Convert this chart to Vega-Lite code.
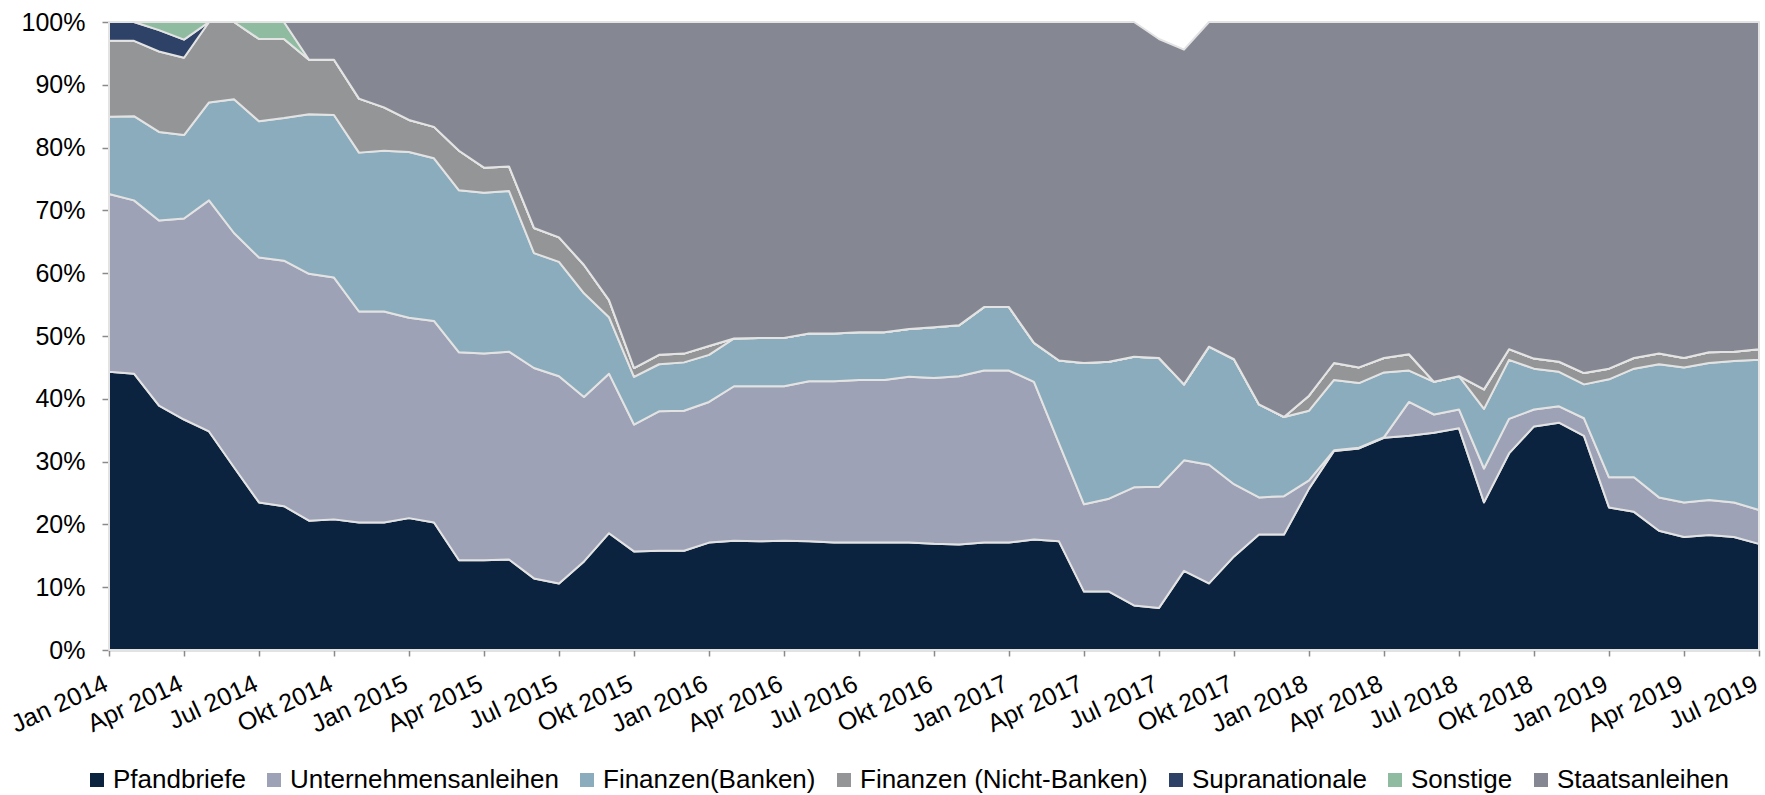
{
  "$schema": "https://vega.github.io/schema/vega-lite/v6.json",
  "width": 1650,
  "height": 628,
  "autosize": {"type": "none"},
  "padding": {"left": 109, "top": 22, "right": 6, "bottom": 145},
  "background": "white",
  "datasets": {
    "reihen": [
      {"key": "P", "series": "Pfandbriefe", "rank": 1},
      {"key": "U", "series": "Unternehmensanleihen", "rank": 2},
      {"key": "B", "series": "Finanzen(Banken)", "rank": 3},
      {"key": "N", "series": "Finanzen (Nicht-Banken)", "rank": 4},
      {"key": "S", "series": "Supranationale", "rank": 5},
      {"key": "O", "series": "Sonstige", "rank": 6},
      {"key": "St", "series": "Staatsanleihen", "rank": 7}
    ]
  },
  "data": {"values": [
    {"m": "2014-01", "P": 44.3, "U": 28.3, "B": 12.3, "N": 12.1, "S": 3.0, "O": 0, "St": 0},
    {"m": "2014-02", "P": 44.0, "U": 27.6, "B": 13.4, "N": 12.0, "S": 3.0, "O": 0, "St": 0},
    {"m": "2014-03", "P": 38.9, "U": 29.5, "B": 14.1, "N": 12.8, "S": 3.4, "O": 1.3, "St": 0},
    {"m": "2014-04", "P": 36.7, "U": 32.0, "B": 13.3, "N": 12.3, "S": 2.9, "O": 2.8, "St": 0},
    {"m": "2014-05", "P": 34.8, "U": 36.8, "B": 15.6, "N": 12.8, "S": 0, "O": 0, "St": 0},
    {"m": "2014-06", "P": 29.1, "U": 37.3, "B": 21.3, "N": 12.3, "S": 0, "O": 0, "St": 0},
    {"m": "2014-07", "P": 23.5, "U": 39.0, "B": 21.7, "N": 13.1, "S": 0, "O": 2.7, "St": 0},
    {"m": "2014-08", "P": 22.9, "U": 39.1, "B": 22.7, "N": 12.6, "S": 0, "O": 2.7, "St": 0},
    {"m": "2014-09", "P": 20.6, "U": 39.3, "B": 25.4, "N": 8.7, "S": 0, "O": 0, "St": 6.0},
    {"m": "2014-10", "P": 20.8, "U": 38.5, "B": 25.9, "N": 8.8, "S": 0, "O": 0, "St": 6.0},
    {"m": "2014-11", "P": 20.3, "U": 33.6, "B": 25.3, "N": 8.6, "S": 0, "O": 0, "St": 12.2},
    {"m": "2014-12", "P": 20.3, "U": 33.6, "B": 25.6, "N": 6.9, "S": 0, "O": 0, "St": 13.6},
    {"m": "2015-01", "P": 21.0, "U": 31.9, "B": 26.4, "N": 5.1, "S": 0, "O": 0, "St": 15.6},
    {"m": "2015-02", "P": 20.3, "U": 32.1, "B": 25.9, "N": 5.0, "S": 0, "O": 0, "St": 16.7},
    {"m": "2015-03", "P": 14.3, "U": 33.1, "B": 25.8, "N": 6.3, "S": 0, "O": 0, "St": 20.5},
    {"m": "2015-04", "P": 14.3, "U": 32.9, "B": 25.6, "N": 4.0, "S": 0, "O": 0, "St": 23.2},
    {"m": "2015-05", "P": 14.4, "U": 33.1, "B": 25.6, "N": 3.9, "S": 0, "O": 0, "St": 23.0},
    {"m": "2015-06", "P": 11.4, "U": 33.5, "B": 18.3, "N": 4.0, "S": 0, "O": 0, "St": 32.8},
    {"m": "2015-07", "P": 10.6, "U": 33.0, "B": 18.2, "N": 3.9, "S": 0, "O": 0, "St": 34.3},
    {"m": "2015-08", "P": 14.1, "U": 26.2, "B": 16.5, "N": 4.5, "S": 0, "O": 0, "St": 38.7},
    {"m": "2015-09", "P": 18.6, "U": 25.4, "B": 9.0, "N": 2.7, "S": 0, "O": 0, "St": 44.3},
    {"m": "2015-10", "P": 15.7, "U": 20.2, "B": 7.6, "N": 1.4, "S": 0, "O": 0, "St": 55.1},
    {"m": "2015-11", "P": 15.8, "U": 22.2, "B": 7.5, "N": 1.5, "S": 0, "O": 0, "St": 53.0},
    {"m": "2015-12", "P": 15.8, "U": 22.3, "B": 7.7, "N": 1.4, "S": 0, "O": 0, "St": 52.8},
    {"m": "2016-01", "P": 17.1, "U": 22.4, "B": 7.5, "N": 1.4, "S": 0, "O": 0, "St": 51.6},
    {"m": "2016-02", "P": 17.4, "U": 24.6, "B": 7.6, "N": 0, "S": 0, "O": 0, "St": 50.4},
    {"m": "2016-03", "P": 17.3, "U": 24.7, "B": 7.7, "N": 0, "S": 0, "O": 0, "St": 50.3},
    {"m": "2016-04", "P": 17.4, "U": 24.6, "B": 7.7, "N": 0, "S": 0, "O": 0, "St": 50.3},
    {"m": "2016-05", "P": 17.3, "U": 25.5, "B": 7.6, "N": 0, "S": 0, "O": 0, "St": 49.6},
    {"m": "2016-06", "P": 17.1, "U": 25.7, "B": 7.6, "N": 0, "S": 0, "O": 0, "St": 49.6},
    {"m": "2016-07", "P": 17.1, "U": 25.9, "B": 7.6, "N": 0, "S": 0, "O": 0, "St": 49.4},
    {"m": "2016-08", "P": 17.1, "U": 25.9, "B": 7.6, "N": 0, "S": 0, "O": 0, "St": 49.4},
    {"m": "2016-09", "P": 17.1, "U": 26.4, "B": 7.6, "N": 0, "S": 0, "O": 0, "St": 48.9},
    {"m": "2016-10", "P": 16.9, "U": 26.4, "B": 8.1, "N": 0, "S": 0, "O": 0, "St": 48.6},
    {"m": "2016-11", "P": 16.8, "U": 26.8, "B": 8.1, "N": 0, "S": 0, "O": 0, "St": 48.3},
    {"m": "2016-12", "P": 17.1, "U": 27.4, "B": 10.1, "N": 0, "S": 0, "O": 0, "St": 45.4},
    {"m": "2017-01", "P": 17.1, "U": 27.4, "B": 10.1, "N": 0, "S": 0, "O": 0, "St": 45.4},
    {"m": "2017-02", "P": 17.6, "U": 25.1, "B": 6.2, "N": 0, "S": 0, "O": 0, "St": 51.1},
    {"m": "2017-03", "P": 17.3, "U": 15.6, "B": 13.2, "N": 0, "S": 0, "O": 0, "St": 53.9},
    {"m": "2017-04", "P": 9.3, "U": 13.9, "B": 22.5, "N": 0, "S": 0, "O": 0, "St": 54.3},
    {"m": "2017-05", "P": 9.3, "U": 14.8, "B": 21.8, "N": 0, "S": 0, "O": 0, "St": 54.1},
    {"m": "2017-06", "P": 7.1, "U": 18.8, "B": 20.8, "N": 0, "S": 0, "O": 0, "St": 53.3},
    {"m": "2017-07", "P": 6.7, "U": 19.3, "B": 20.5, "N": 0, "S": 0, "O": 0, "St": 50.8},
    {"m": "2017-08", "P": 12.6, "U": 17.6, "B": 12.1, "N": 0, "S": 0, "O": 0, "St": 53.3},
    {"m": "2017-09", "P": 10.6, "U": 18.9, "B": 18.8, "N": 0, "S": 0, "O": 0, "St": 51.7},
    {"m": "2017-10", "P": 14.9, "U": 11.5, "B": 19.9, "N": 0, "S": 0, "O": 0, "St": 53.7},
    {"m": "2017-11", "P": 18.4, "U": 5.9, "B": 14.8, "N": 0, "S": 0, "O": 0, "St": 60.9},
    {"m": "2017-12", "P": 18.4, "U": 6.1, "B": 12.6, "N": 0, "S": 0, "O": 0, "St": 62.9},
    {"m": "2018-01", "P": 25.7, "U": 1.3, "B": 11.1, "N": 2.4, "S": 0, "O": 0, "St": 59.5},
    {"m": "2018-02", "P": 31.7, "U": 0.1, "B": 11.2, "N": 2.7, "S": 0, "O": 0, "St": 54.3},
    {"m": "2018-03", "P": 32.1, "U": 0.1, "B": 10.3, "N": 2.5, "S": 0, "O": 0, "St": 55.0},
    {"m": "2018-04", "P": 33.8, "U": 0.1, "B": 10.3, "N": 2.3, "S": 0, "O": 0, "St": 53.5},
    {"m": "2018-05", "P": 34.1, "U": 5.4, "B": 5.0, "N": 2.6, "S": 0, "O": 0, "St": 52.9},
    {"m": "2018-06", "P": 34.6, "U": 2.9, "B": 5.2, "N": 0, "S": 0, "O": 0, "St": 57.3},
    {"m": "2018-07", "P": 35.3, "U": 3.0, "B": 5.3, "N": 0, "S": 0, "O": 0, "St": 56.4},
    {"m": "2018-08", "P": 23.5, "U": 5.4, "B": 9.5, "N": 3.1, "S": 0, "O": 0, "St": 58.5},
    {"m": "2018-09", "P": 31.3, "U": 5.5, "B": 9.4, "N": 1.7, "S": 0, "O": 0, "St": 52.1},
    {"m": "2018-10", "P": 35.6, "U": 2.7, "B": 6.5, "N": 1.6, "S": 0, "O": 0, "St": 53.6},
    {"m": "2018-11", "P": 36.2, "U": 2.6, "B": 5.5, "N": 1.6, "S": 0, "O": 0, "St": 54.1},
    {"m": "2018-12", "P": 34.1, "U": 2.8, "B": 5.4, "N": 1.8, "S": 0, "O": 0, "St": 55.9},
    {"m": "2019-01", "P": 22.7, "U": 4.8, "B": 15.6, "N": 1.7, "S": 0, "O": 0, "St": 55.2},
    {"m": "2019-02", "P": 22.0, "U": 5.5, "B": 17.3, "N": 1.7, "S": 0, "O": 0, "St": 53.5},
    {"m": "2019-03", "P": 19.0, "U": 5.3, "B": 21.2, "N": 1.7, "S": 0, "O": 0, "St": 52.8},
    {"m": "2019-04", "P": 18.0, "U": 5.5, "B": 21.5, "N": 1.5, "S": 0, "O": 0, "St": 53.5},
    {"m": "2019-05", "P": 18.3, "U": 5.6, "B": 21.8, "N": 1.7, "S": 0, "O": 0, "St": 52.6},
    {"m": "2019-06", "P": 18.0, "U": 5.5, "B": 22.5, "N": 1.5, "S": 0, "O": 0, "St": 52.5},
    {"m": "2019-07", "P": 16.9, "U": 5.4, "B": 23.9, "N": 1.7, "S": 0, "O": 0, "St": 52.1}
  ]},
  "transform": [
    {"fold": ["P", "U", "B", "N", "S", "O", "St"], "as": ["key", "value"]},
    {"lookup": "key", "from": {"data": {"name": "reihen"}, "key": "key", "fields": ["series", "rank"]}}
  ],
  "mark": {"type": "area", "interpolate": "linear", "stroke": "#e3e3e3", "strokeWidth": 2, "strokeJoin": "round", "line": false},
  "encoding": {
    "x": {
      "field": "m", "type": "ordinal",
      "scale": {"type": "point", "padding": 0},
      "axis": {
        "title": null,
        "values": ["2014-01","2014-04","2014-07","2014-10","2015-01","2015-04","2015-07","2015-10","2016-01","2016-04","2016-07","2016-10","2017-01","2017-04","2017-07","2017-10","2018-01","2018-04","2018-07","2018-10","2019-01","2019-04","2019-07"],
        "labelExpr": "['Jan','Feb','Mär','Apr','Mai','Jun','Jul','Aug','Sep','Okt','Nov','Dez'][parseInt(substring(datum.value,5,7),10)-1] + ' ' + substring(datum.value,0,4)",
        "labelAngle": -25,
        "labelAlign": "right",
        "labelBaseline": "alphabetic",
        "labelPadding": 33,
        "tickSize": 6,
        "labelOverlap": false,
        "labelBound": false,
        "labelFlush": false
      }
    },
    "y": {
      "field": "value", "type": "quantitative", "stack": "zero",
      "scale": {"domain": [0, 100], "nice": false, "zero": true},
      "axis": {
        "title": null,
        "values": [0,10,20,30,40,50,60,70,80,90,100],
        "labelExpr": "datum.value + '%'",
        "tickSize": 7,
        "labelPadding": 17,
        "grid": false
      }
    },
    "color": {
      "field": "series", "type": "nominal",
      "scale": {
        "domain": ["Pfandbriefe", "Unternehmensanleihen", "Finanzen(Banken)", "Finanzen (Nicht-Banken)", "Supranationale", "Sonstige", "Staatsanleihen"],
        "range": ["#0c2340", "#9ea2b6", "#8aacbc", "#949597", "#2d4266", "#8fbca1", "#858892"]
      },
      "legend": {
        "title": null,
        "orient": "none",
        "direction": "horizontal",
        "legendX": -25,
        "legendY": 745,
        "symbolType": "square",
        "symbolSize": 196,
        "symbolStrokeWidth": 0,
        "symbolStrokeColor": "transparent",
        "labelOffset": 3,
        "columnPadding": 15,
        "labelFontSize": 26,
        "labelFont": "Liberation Sans",
        "labelColor": "#000000",
        "labelLimit": 0
      }
    },
    "order": {"field": "rank", "type": "quantitative", "sort": "ascending"}
  },
  "config": {
    "view": {"stroke": null},
    "axis": {
      "labelFont": "Liberation Sans",
      "labelFontSize": 25,
      "labelColor": "#000000",
      "domainColor": "#8a8a8a",
      "domainWidth": 1.5,
      "tickColor": "#8a8a8a",
      "tickWidth": 1.5
    }
  }
}
